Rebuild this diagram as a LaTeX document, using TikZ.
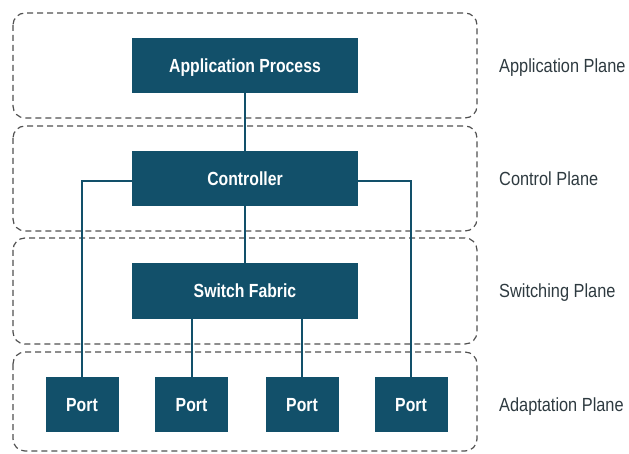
\documentclass[tikz,border=0pt]{standalone}
\usepackage{fontspec}
\setmainfont{Liberation Sans}[FakeStretch=0.86,BoldFeatures={FakeStretch=0.83}]
\definecolor{boxfill}{HTML}{12506A}
\definecolor{planeline}{HTML}{505050}
\definecolor{labeltext}{HTML}{2E3A40}
\begin{document}
\begin{tikzpicture}[x=1pt,y=-1pt,
  plane/.style={draw=planeline,dash pattern=on 6pt off 4pt,line width=1.2pt,rounded corners=12pt},
  block/.style={fill=boxfill,draw=none,text=white,font=\fontsize{19}{22}\selectfont\bfseries,inner sep=0pt,text height=13.5pt,text depth=0pt},
  wire/.style={draw=boxfill,line width=2pt},
  planelabel/.style={anchor=west,text=labeltext,font=\fontsize{19}{22}\selectfont,inner sep=0pt,text height=13.5pt,text depth=0pt}]
\useasboundingbox (0,0) rectangle (629,454);
% planes
\draw[plane] (13,13) rectangle (477,118);
\draw[plane] (13,126) rectangle (477,231);
\draw[plane] (13,238) rectangle (477,344);
\draw[plane] (13,352) rectangle (477,451);
% blocks
\node[block,minimum width=226pt,minimum height=55pt] (app) at (245,65.5) {Application Process};
\node[block,minimum width=226pt,minimum height=55pt] (ctrl) at (245,178.5) {Controller};
\node[block,minimum width=226pt,minimum height=55pt] (sw) at (245,291) {Switch Fabric};
\node[block,minimum width=73pt,minimum height=55pt] (p1) at (82,404.5) {Port};
\node[block,minimum width=73pt,minimum height=55pt] (p2) at (191.5,404.5) {Port};
\node[block,minimum width=73pt,minimum height=55pt] (p3) at (302,404.5) {Port};
\node[block,minimum width=73pt,minimum height=55pt] (p4) at (411,404.5) {Port};
% wires
\draw[wire] (app.south) -- (ctrl.north);
\draw[wire] (ctrl.south) -- (sw.north);
\draw[wire] (ctrl.west |- 0,181) -| (p1.north);
\draw[wire] (ctrl.east |- 0,181) -| (p4.north);
\draw[wire] (sw.south -| p2.north) -- (p2.north);
\draw[wire] (sw.south -| p3.north) -- (p3.north);
% labels
\node[planelabel] (l1) at (499,65.5) {Application Plane};
\node[planelabel] (l2) at (499,178.5) {Control Plane};
\node[planelabel] (l3) at (499,291) {Switching Plane};
\node[planelabel] (l4) at (499,404.5) {Adaptation Plane};
\end{tikzpicture}
\end{document}
